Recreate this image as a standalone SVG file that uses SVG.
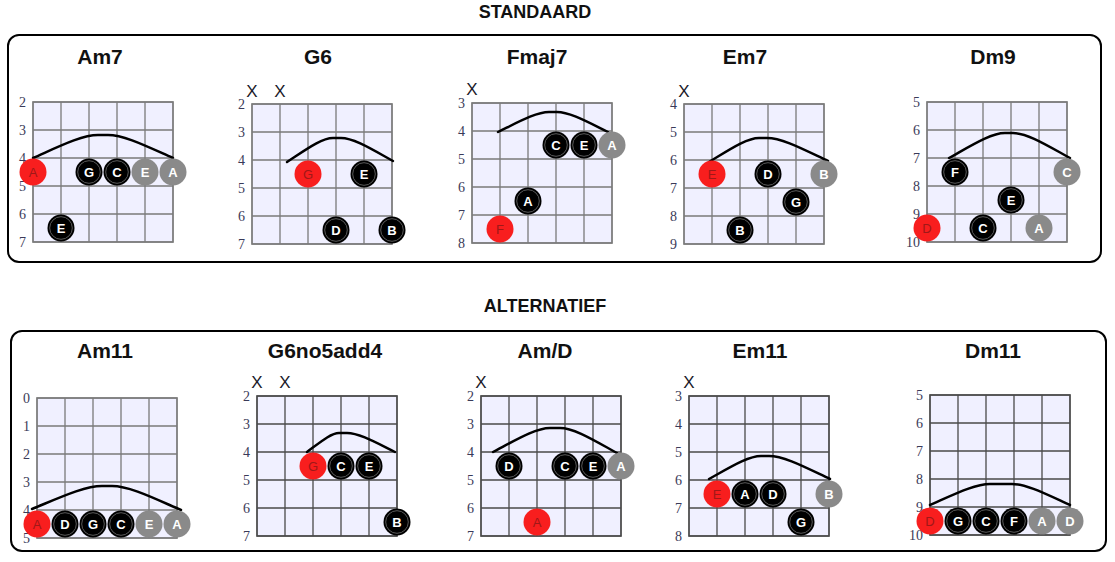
<svg xmlns="http://www.w3.org/2000/svg" xmlns:xlink="http://www.w3.org/1999/xlink" width="1115" height="562" viewBox="0 0 1115 562">
<style>
.panel{fill:#fff;stroke:#000;stroke-width:2}
.sec{font:bold 18px "Liberation Sans",Arial,sans-serif;fill:#111;text-anchor:middle}
.title{font:bold 21px "Liberation Sans",Arial,sans-serif;fill:#111;text-anchor:middle}
.fret{font:14px "Liberation Serif","Times New Roman",serif;fill:#3a3a58;text-anchor:end}
.x{font:17px "Liberation Sans",Arial,sans-serif;fill:#1a1a2a;text-anchor:middle}
.g1{stroke:#7a7a7a;stroke-width:1.3}
.g2{stroke:#4a4a4a;stroke-width:1.3}
.arc{fill:none;stroke:#000;stroke-width:2.5;stroke-linecap:round}
.nr{fill:#f81e1e}
.ng{fill:#8a8a8a}
.tw{font:bold 13px "Liberation Sans",Arial,sans-serif;fill:#fff;text-anchor:middle}
.tr{font:13px "Liberation Sans",Arial,sans-serif;fill:#a01818;text-anchor:middle}
</style>
<defs>
<g id="grid"><rect width="140" height="140" fill="#f0f0ff"/><path fill="none" d="M0,0H140V140H0ZM28,0V140M56,0V140M84,0V140M112,0V140M0,28H140M0,56H140M0,84H140M0,112H140"/></g>
<g id="nb"><circle r="13.5" fill="#000"/><circle r="11.3" fill="none" stroke="#5a5a5a" stroke-width="1"/></g>
</defs>

<g id="panel-standaard">
<rect class="panel" x="8" y="35" width="1093" height="227" rx="11"/>
<text class="sec" x="535" y="18">STANDAARD</text>
</g>
<g id="panel-alternatief">
<rect class="panel" x="11" y="331" width="1095" height="220" rx="11"/>
<text class="sec" x="545" y="312">ALTERNATIEF</text>
</g>

<g id="chord-am7">
<text class="title" x="100" y="64">Am7</text>
<use xlink:href="#grid" class="g1" x="33" y="102"/>
<g class="fret"><text x="26" y="107">2</text><text x="26" y="135">3</text><text x="26" y="163">4</text><text x="26" y="191">5</text><text x="26" y="219">6</text><text x="26" y="247">7</text></g>
<path class="arc" d="M33,158 C59,146.5 81.8,135 98,135 L108,135 C124.3,135 147,146.5 173,158"/>
<circle class="nr" cx="33" cy="172" r="13.5"/><text class="tr" x="33" y="176.7">A</text>
<use xlink:href="#nb" x="89" y="172"/><text class="tw" x="89" y="176.7">G</text>
<use xlink:href="#nb" x="117" y="172"/><text class="tw" x="117" y="176.7">C</text>
<circle class="ng" cx="145" cy="172" r="13.5"/><text class="tw" x="145" y="176.7">E</text>
<circle class="ng" cx="173" cy="172" r="13.5"/><text class="tw" x="173" y="176.7">A</text>
<use xlink:href="#nb" x="61" y="228"/><text class="tw" x="61" y="232.7">E</text>
</g>

<g id="chord-g6">
<text class="title" x="318" y="64">G6</text>
<text class="x" x="252" y="97">X</text><text class="x" x="280" y="97">X</text>
<use xlink:href="#grid" class="g1" x="252" y="104"/>
<g class="fret"><text x="245" y="109">2</text><text x="245" y="137">3</text><text x="245" y="165">4</text><text x="245" y="193">5</text><text x="245" y="221">6</text><text x="245" y="249">7</text></g>
<path class="arc" d="M287,162 C305.4,150 321.5,138 333,138 L341,138 C354,138 372.2,149.5 393,161"/>
<circle class="nr" cx="308" cy="174" r="13.5"/><text class="tr" x="308" y="178.7">G</text>
<use xlink:href="#nb" x="364" y="174"/><text class="tw" x="364" y="178.7">E</text>
<use xlink:href="#nb" x="336" y="230"/><text class="tw" x="336" y="234.7">D</text>
<use xlink:href="#nb" x="392" y="230"/><text class="tw" x="392" y="234.7">B</text>
</g>

<g id="chord-fmaj7">
<text class="title" x="537" y="64">Fmaj7</text>
<text class="x" x="472" y="95">X</text>
<use xlink:href="#grid" class="g1" x="472" y="103"/>
<g class="fret"><text x="465" y="108">3</text><text x="465" y="136">4</text><text x="465" y="164">5</text><text x="465" y="192">6</text><text x="465" y="220">7</text><text x="465" y="248">8</text></g>
<path class="arc" d="M498,132 C518.4,122 536.3,112 549,112 L557,112 C569.8,112 587.6,122 608,132"/>
<use xlink:href="#nb" x="556" y="145"/><text class="tw" x="556" y="149.7">C</text>
<use xlink:href="#nb" x="584" y="145"/><text class="tw" x="584" y="149.7">E</text>
<circle class="ng" cx="612" cy="145" r="13.5"/><text class="tw" x="612" y="149.7">A</text>
<use xlink:href="#nb" x="528" y="201"/><text class="tw" x="528" y="205.7">A</text>
<circle class="nr" cx="500" cy="229" r="13.5"/><text class="tr" x="500" y="233.7">F</text>
</g>

<g id="chord-em7">
<text class="title" x="745" y="64">Em7</text>
<text class="x" x="684" y="97">X</text>
<use xlink:href="#grid" class="g1" x="684" y="104"/>
<g class="fret"><text x="677" y="109">4</text><text x="677" y="137">5</text><text x="677" y="165">6</text><text x="677" y="193">7</text><text x="677" y="221">8</text><text x="677" y="249">9</text></g>
<path class="arc" d="M709,162 C729,150 746.5,138 759,138 L767,138 C782.3,138 803.6,149.5 828,161"/>
<circle class="nr" cx="712" cy="174" r="13.5"/><text class="tr" x="712" y="178.7">E</text>
<use xlink:href="#nb" x="768" y="174"/><text class="tw" x="768" y="178.7">D</text>
<circle class="ng" cx="824" cy="174" r="13.5"/><text class="tw" x="824" y="178.7">B</text>
<use xlink:href="#nb" x="796" y="202"/><text class="tw" x="796" y="206.7">G</text>
<use xlink:href="#nb" x="740" y="230"/><text class="tw" x="740" y="234.7">B</text>
</g>

<g id="chord-dm9">
<text class="title" x="993" y="64">Dm9</text>
<use xlink:href="#grid" class="g1" x="927" y="102"/>
<g class="fret"><text x="920" y="107">5</text><text x="920" y="135">6</text><text x="920" y="163">7</text><text x="920" y="191">8</text><text x="920" y="219">9</text><text x="920" y="247">10</text></g>
<path class="arc" d="M949,158 C971.4,145.5 991,133 1005,133 L1013,133 C1027.3,133 1047.2,145.5 1070,158"/>
<use xlink:href="#nb" x="955" y="172"/><text class="tw" x="955" y="176.7">F</text>
<circle class="ng" cx="1067" cy="172" r="13.5"/><text class="tw" x="1067" y="176.7">C</text>
<use xlink:href="#nb" x="1011" y="200"/><text class="tw" x="1011" y="204.7">E</text>
<circle class="nr" cx="927" cy="228" r="13.5"/><text class="tr" x="927" y="232.7">D</text>
<use xlink:href="#nb" x="983" y="228"/><text class="tw" x="983" y="232.7">C</text>
<circle class="ng" cx="1039" cy="228" r="13.5"/><text class="tw" x="1039" y="232.7">A</text>
</g>

<g id="chord-am11">
<text class="title" x="105" y="358">Am11</text>
<use xlink:href="#grid" class="g1" x="37" y="398"/>
<g class="fret"><text x="30" y="403">0</text><text x="30" y="431">1</text><text x="30" y="459">2</text><text x="30" y="487">3</text><text x="30" y="515">4</text><text x="30" y="543">5</text></g>
<path class="arc" d="M32,509 C60,497.5 84.5,486 102,486 L112,486 C129.3,486 153.4,498 181,510"/>
<circle class="nr" cx="37" cy="524" r="13.5"/><text class="tr" x="37" y="528.7">A</text>
<use xlink:href="#nb" x="65" y="524"/><text class="tw" x="65" y="528.7">D</text>
<use xlink:href="#nb" x="93" y="524"/><text class="tw" x="93" y="528.7">G</text>
<use xlink:href="#nb" x="121" y="524"/><text class="tw" x="121" y="528.7">C</text>
<circle class="ng" cx="149" cy="524" r="13.5"/><text class="tw" x="149" y="528.7">E</text>
<circle class="ng" cx="177" cy="524" r="13.5"/><text class="tw" x="177" y="528.7">A</text>
</g>

<g id="chord-g6no5add4">
<text class="title" x="325" y="358">G6no5add4</text>
<text class="x" x="257" y="388">X</text><text class="x" x="285" y="388">X</text>
<use xlink:href="#grid" class="g2" x="257" y="396"/>
<g class="fret"><text x="250" y="401">2</text><text x="250" y="429">3</text><text x="250" y="457">4</text><text x="250" y="485">5</text><text x="250" y="513">6</text><text x="250" y="541">7</text></g>
<path class="arc" d="M307,452 C319.8,442.5 331,433 339,433 L347,433 C359,433 375.8,442.5 395,452"/>
<circle class="nr" cx="313" cy="466" r="13.5"/><text class="tr" x="313" y="470.7">G</text>
<use xlink:href="#nb" x="341" y="466"/><text class="tw" x="341" y="470.7">C</text>
<use xlink:href="#nb" x="369" y="466"/><text class="tw" x="369" y="470.7">E</text>
<use xlink:href="#nb" x="397" y="522"/><text class="tw" x="397" y="526.7">B</text>
</g>

<g id="chord-amd">
<text class="title" x="545" y="358">Am/D</text>
<text class="x" x="481" y="388">X</text>
<use xlink:href="#grid" class="g2" x="481" y="396"/>
<g class="fret"><text x="474" y="401">2</text><text x="474" y="429">3</text><text x="474" y="457">4</text><text x="474" y="485">5</text><text x="474" y="513">6</text><text x="474" y="541">7</text></g>
<path class="arc" d="M493,452 C515.8,440 535.8,428 550,428 L560,428 C574.3,428 594.2,440.5 617,453"/>
<use xlink:href="#nb" x="509" y="466"/><text class="tw" x="509" y="470.7">D</text>
<use xlink:href="#nb" x="565" y="466"/><text class="tw" x="565" y="470.7">C</text>
<use xlink:href="#nb" x="593" y="466"/><text class="tw" x="593" y="470.7">E</text>
<circle class="ng" cx="621" cy="466" r="13.5"/><text class="tw" x="621" y="470.7">A</text>
<circle class="nr" cx="537" cy="522" r="13.5"/><text class="tr" x="537" y="526.7">A</text>
</g>

<g id="chord-em11">
<text class="title" x="760" y="358">Em11</text>
<text class="x" x="689" y="388">X</text>
<use xlink:href="#grid" class="g2" x="689" y="396"/>
<g class="fret"><text x="682" y="401">3</text><text x="682" y="429">4</text><text x="682" y="457">5</text><text x="682" y="485">6</text><text x="682" y="513">7</text><text x="682" y="541">8</text></g>
<path class="arc" d="M709,479 C729.8,467.5 748,456 761,456 L769,456 C784.3,456 805.6,467.5 830,479"/>
<circle class="nr" cx="717" cy="494" r="13.5"/><text class="tr" x="717" y="498.7">E</text>
<use xlink:href="#nb" x="745" y="494"/><text class="tw" x="745" y="498.7">A</text>
<use xlink:href="#nb" x="773" y="494"/><text class="tw" x="773" y="498.7">D</text>
<circle class="ng" cx="829" cy="494" r="13.5"/><text class="tw" x="829" y="498.7">B</text>
<use xlink:href="#nb" x="801" y="522"/><text class="tw" x="801" y="526.7">G</text>
</g>

<g id="chord-dm11">
<text class="title" x="993" y="358">Dm11</text>
<use xlink:href="#grid" class="g2" x="930" y="395"/>
<g class="fret"><text x="923" y="400">5</text><text x="923" y="428">6</text><text x="923" y="456">7</text><text x="923" y="484">8</text><text x="923" y="512">9</text><text x="923" y="540">10</text></g>
<path class="arc" d="M930,505 C954,494.5 975,484 990,484 L1012,484 C1026.5,484 1046.8,494.5 1070,505"/>
<circle class="nr" cx="930" cy="521" r="13.5"/><text class="tr" x="930" y="525.7">D</text>
<use xlink:href="#nb" x="958" y="521"/><text class="tw" x="958" y="525.7">G</text>
<use xlink:href="#nb" x="986" y="521"/><text class="tw" x="986" y="525.7">C</text>
<use xlink:href="#nb" x="1014" y="521"/><text class="tw" x="1014" y="525.7">F</text>
<circle class="ng" cx="1042" cy="521" r="13.5"/><text class="tw" x="1042" y="525.7">A</text>
<circle class="ng" cx="1070" cy="521" r="13.5"/><text class="tw" x="1070" y="525.7">D</text>
</g>

<g id="connectors"></g>
</svg>
